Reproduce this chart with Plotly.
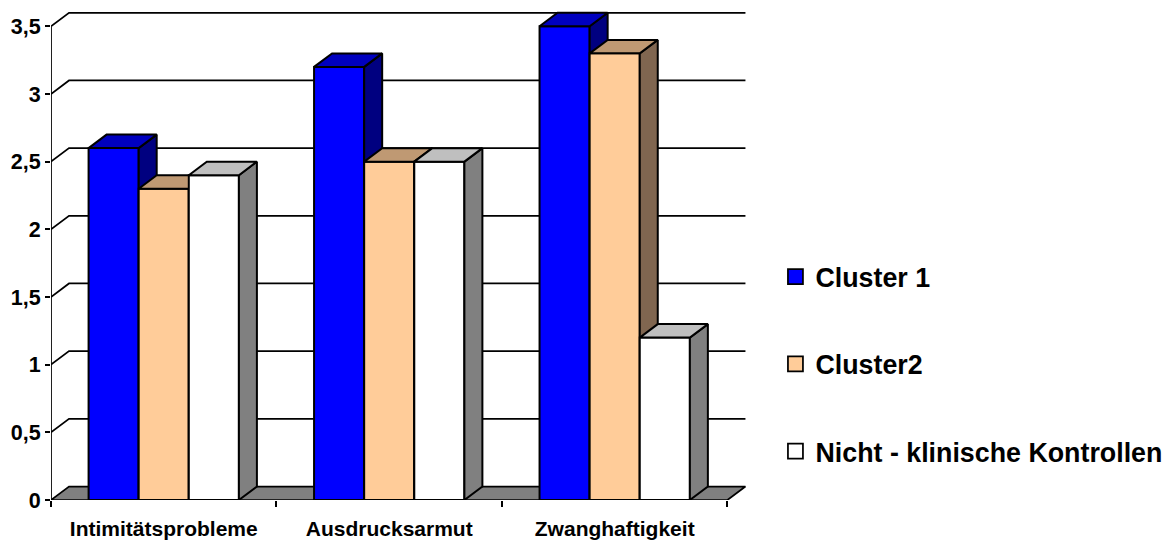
import plotly.graph_objects as go

# Chart values
categories = ["Intimitätsprobleme", "Ausdrucksarmut", "Zwanghaftigkeit"]
series_names = ["Cluster 1", "Cluster2", "Nicht - klinische Kontrollen"]
cluster_1 = [2.6, 3.2, 3.5]
cluster_2 = [2.3, 2.5, 3.3]
kontrollen = [2.4, 2.5, 1.2]
y_ticks = [0, 0.5, 1, 1.5, 2, 2.5, 3, 3.5]
y_tick_labels = ["0", "0,5", "1", "1,5", "2", "2,5", "3", "3,5"]

# Colours per series: front, top face, side face
front_colors = ["#0000FF", "#FFCC99", "#FFFFFF"]
top_colors = ["#0000BF", "#BF9973", "#BFBFBF"]
side_colors = ["#000080", "#806650", "#808080"]

# Oblique projection of the depth axis, in axis units
DEPTH_X = 18 / 225.5
DEPTH_Y = 13.5 / 135.4
BAR_W = 1 / 4.5
GAP = 0.75 * BAR_W

X_RANGE = [0, 3.1]
Y_RANGE = [0, 3.65]
LINE = 1.75
BAR_LINE = 2
FONT = "Liberation Sans"

# Pixel frame of the axes
left, bottom_y = 50.5, 500.5
plot_w = X_RANGE[1] * 225.5
plot_h = Y_RANGE[1] * 135.4
W, H = 1171, 543

fig = go.Figure()


def polygons(shapes):
    xs, ys = [], []
    for poly in shapes:
        xs += [p[0] for p in poly] + [poly[0][0], None]
        ys += [p[1] for p in poly] + [poly[0][1], None]
    return xs, ys


# Floor of the chart
floor = [[(0, 0), (DEPTH_X, DEPTH_Y), (3 + DEPTH_X, DEPTH_Y), (3, 0)]]
fx, fy = polygons(floor)
fig.add_trace(go.Scatter(x=fx, y=fy, mode="lines", fill="toself", fillcolor="#808080",
                         line=dict(color="black", width=LINE), cliponaxis=False,
                         showlegend=False, hoverinfo="skip"))

# Gridlines on the back wall and their run along the left wall
gx, gy = [], []
for v in y_ticks[1:]:
    gx += [0, DEPTH_X, 3 + DEPTH_X, None]
    gy += [v, v + DEPTH_Y, v + DEPTH_Y, None]
fig.add_trace(go.Scatter(x=gx, y=gy, mode="lines", line=dict(color="black", width=LINE),
                         cliponaxis=False, showlegend=False, hoverinfo="skip"))

# Vertical axis line
fig.add_trace(go.Scatter(x=[0, 0], y=[0, y_ticks[-1]], mode="lines",
                         line=dict(color="black", width=LINE), cliponaxis=False,
                         showlegend=False, hoverinfo="skip"))

# One overlaid axis pair per series, so later series hide the faces of earlier ones
all_series = [cluster_1, cluster_2, kontrollen]
for s, values in enumerate(all_series):
    ax = str(s + 2)
    lefts = [i + GAP + s * BAR_W for i in range(len(categories))]
    fig.add_trace(go.Bar(x=[l + BAR_W / 2 for l in lefts], y=values, width=BAR_W,
                         marker=dict(color=front_colors[s], line=dict(color="black", width=BAR_LINE)),
                         xaxis="x" + ax, yaxis="y" + ax, showlegend=False,
                         name=series_names[s]))
    tops, sides = [], []
    for l, v in zip(lefts, values):
        r = l + BAR_W
        tops.append([(l, v), (l + DEPTH_X, v + DEPTH_Y), (r + DEPTH_X, v + DEPTH_Y), (r, v)])
        sides.append([(r, 0), (r + DEPTH_X, DEPTH_Y), (r + DEPTH_X, v + DEPTH_Y), (r, v)])
    for shapes, color in ((sides, side_colors[s]), (tops, top_colors[s])):
        px, py = polygons(shapes)
        fig.add_trace(go.Scatter(x=px, y=py, mode="lines", fill="toself", fillcolor=color,
                                 line=dict(color="black", width=BAR_LINE), cliponaxis=False,
                                 xaxis="x" + ax, yaxis="y" + ax, showlegend=False,
                                 hoverinfo="skip"))

# Legend entries
for s, name in enumerate(series_names):
    fig.add_trace(go.Scatter(x=[None], y=[None], mode="markers", name=name,
                             legendgroup=name,
                             marker=dict(symbol="square", size=15, color=front_colors[s],
                                         line=dict(color="black", width=LINE))))

layout = dict(
    width=W, height=H,
    margin=dict(l=left, r=W - left - plot_w, t=bottom_y - plot_h, b=H - bottom_y, pad=0,
                autoexpand=False),
    paper_bgcolor="white", plot_bgcolor="white",
    font=dict(family=FONT, color="black", weight="bold"),
    xaxis=dict(range=X_RANGE, showgrid=False, zeroline=False, showline=False, automargin=False,
               tickmode="array", tickvals=[0.5, 1.5, 2.5], ticktext=categories,
               ticks="", ticklabelstandoff=14, tickfont=dict(size=21, family=FONT, weight="bold"),
               minor=dict(tickmode="array", tickvals=[0, 1, 2, 3], ticks="outside", ticklen=6,
                          tickwidth=LINE, tickcolor="black")),
    yaxis=dict(range=Y_RANGE, showgrid=False, zeroline=False, showline=False, automargin=False,
               tickmode="array", tickvals=y_ticks, ticktext=y_tick_labels,
               ticks="outside", ticklen=5, tickwidth=LINE, tickcolor="black",
               tickfont=dict(size=21.5, family=FONT, weight="bold")),
    legend=dict(x=(775 - left) / plot_w, xanchor="left",
                y=(bottom_y - 253) / plot_h, yanchor="top",
                font=dict(size=26.8, family=FONT, weight="bold"), tracegroupgap=49.5,
                itemsizing="trace", bgcolor="rgba(0,0,0,0)", borderwidth=0),
    barmode="overlay",
    showlegend=True,
)
for s in range(len(all_series)):
    ax = str(s + 2)
    layout["xaxis" + ax] = dict(range=X_RANGE, overlaying="x", visible=False, automargin=False)
    layout["yaxis" + ax] = dict(range=Y_RANGE, overlaying="y", visible=False, automargin=False)

fig.update_layout(**layout)
fig.write_html("out.html", config=dict(displayModeBar=False))
